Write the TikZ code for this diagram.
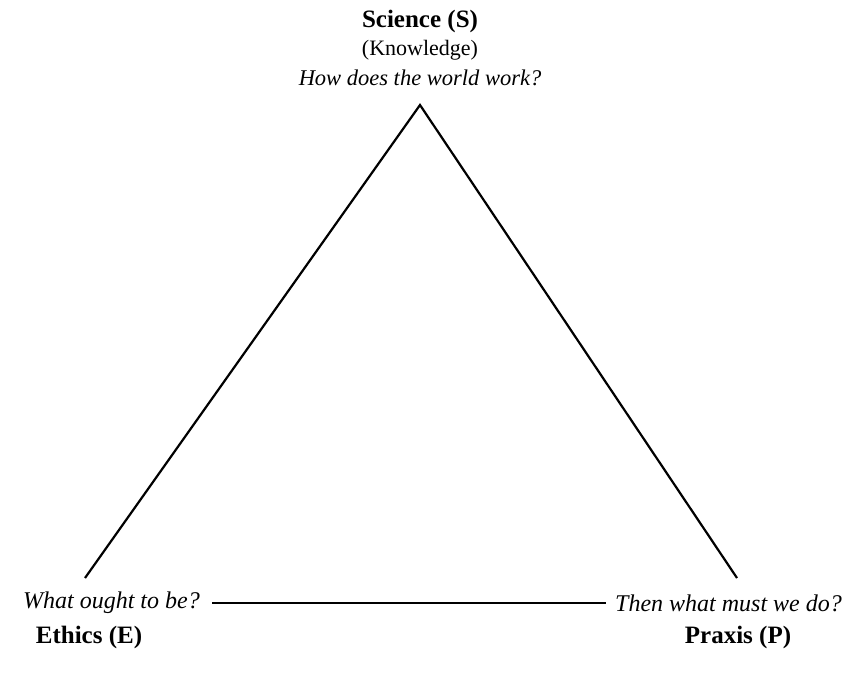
\documentclass[tikz,border=0pt]{standalone}
\usepackage{fontspec}
\setmainfont{Liberation Serif}
\begin{document}
\begin{tikzpicture}[x=1pt,y=-1pt,
  lbl/.style={inner sep=0pt,font=\fontsize{22}{25}\selectfont},
  head/.style={lbl,font=\fontsize{25}{28}\selectfont\bfseries},
  ques/.style={lbl,font=\fontsize{24}{27}\selectfont\itshape},
  topq/.style={lbl,font=\fontsize{22.5}{26}\selectfont\itshape},
  edge/.style={line width=2.2pt,line cap=butt}]
\useasboundingbox (0,0) rectangle (843,680);
\node[head] (sci) at (420,21) {Science (S)};
\node[lbl] (know) at (420,50) {(Knowledge)};
\node[topq] (sq) at (420,78) {How does the world work?};
\node[ques,anchor=east] (eq) at (200,603) {What ought to be?};
\node[head] (eth) at (89,637) {Ethics (E)};
\node[ques,anchor=west] (pq) at (615,603) {Then what must we do?};
\node[head] (pra) at (738,637) {Praxis (P)};
\coordinate (apex) at (420,105);
\coordinate (lft) at (85,578);
\coordinate (rgt) at (737,578);
\draw[edge] (lft) -- (apex) -- (rgt);
\draw[edge] ([xshift=12pt]eq.east) -- ([xshift=-9pt]pq.west);
\end{tikzpicture}
\end{document}
